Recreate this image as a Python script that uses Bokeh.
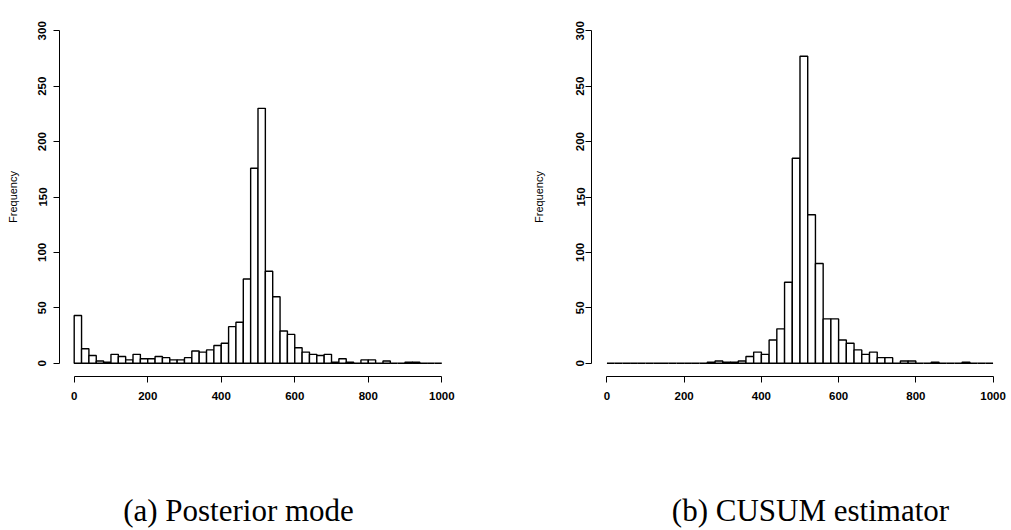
from bokeh.plotting import figure
from bokeh.layouts import row, column
from bokeh.models import Range1d, FixedTicker, ColumnDataSource
from bokeh.core.properties import value
from bokeh.embed import file_html
from bokeh.resources import INLINE

# ---- data ----
bin_left = [0, 20, 40, 60, 80, 100, 120, 140, 160, 180,
            200, 220, 240, 260, 280, 300, 320, 340, 360, 380,
            400, 420, 440, 460, 480, 500, 520, 540, 560, 580,
            600, 620, 640, 660, 680, 700, 720, 740, 760, 780,
            800, 820, 840, 860, 880, 900, 920, 940, 960, 980]
bin_width = 20

posterior_counts = [43, 13, 7, 2, 1, 8, 6, 3, 8, 4,
                    4, 6, 5, 3, 3, 5, 11, 10, 12, 16,
                    18, 33, 37, 76, 176, 230, 83, 60, 29, 26,
                    14, 10, 8, 7, 8, 1, 4, 1, 0, 3,
                    3, 0, 2, 0, 0, 1, 1, 0, 0, 0]

cusum_counts = [0, 0, 0, 0, 0, 0, 0, 0, 0, 0,
                0, 0, 0, 1, 2, 1, 1, 2, 6, 10,
                8, 21, 31, 73, 185, 277, 134, 90, 40, 40,
                21, 18, 12, 8, 10, 5, 5, 0, 2, 2,
                0, 0, 1, 0, 0, 0, 1, 0, 0, 0]

x_ticks = [0, 200, 400, 600, 800, 1000]
y_ticks = [0, 50, 100, 150, 200, 250, 300]
y_label = "Frequency"
captions = ["(a) Posterior mode", "(b) CUSUM estimator"]

SANS = "Liberation Sans"
SERIF = "Liberation Serif"


def hist_panel(counts, width, height, borders, ylab_standoff, axlab_standoff):
    left, right, top, bottom = borders
    p = figure(width=width, height=height, output_backend="svg",
               toolbar_location=None,
               x_range=Range1d(-40, 1040), y_range=Range1d(-12, 312),
               min_border_left=left, min_border_right=right,
               min_border_top=top, min_border_bottom=bottom)
    p.outline_line_color = None
    p.grid.visible = False
    p.background_fill_color = "white"
    p.border_fill_color = "white"

    src = ColumnDataSource(dict(
        left=bin_left,
        right=[b + bin_width for b in bin_left],
        top=counts,
        bottom=[0] * len(counts),
    ))
    p.quad(left="left", right="right", top="top", bottom="bottom", source=src,
           fill_color="white", line_color="black", line_width=1.4)

    xa = p.xaxis[0]
    xa.bounds = (0, 1000)
    xa.ticker = FixedTicker(ticks=x_ticks)
    ya = p.yaxis[0]
    ya.bounds = (0, 300)
    ya.ticker = FixedTicker(ticks=y_ticks)
    ya.major_label_orientation = "vertical"
    ya.axis_label = y_label
    ya.axis_label_text_font = SANS
    ya.axis_label_text_font_size = "11px"
    ya.axis_label_text_font_style = "normal"
    ya.axis_label_standoff = axlab_standoff
    ya.major_label_standoff = ylab_standoff
    xa.major_label_standoff = 9
    for ax in (xa, ya):
        ax.minor_tick_line_color = None
        ax.major_tick_in = 0
        ax.major_tick_out = 6
        ax.axis_line_color = "black"
        ax.major_tick_line_color = "black"
        ax.major_label_text_font = SANS
        ax.major_label_text_font_size = "11.5px"
        ax.major_label_text_font_style = "bold"
        ax.major_label_text_color = "black"
        ax.axis_label_text_color = "black"
    return p


p1 = hist_panel(posterior_counts, 495, 440, (59, 39, 17, 64), 7, 17)
p2 = hist_panel(cusum_counts, 516, 440, (96, 3, 3, 58), 1, 29)

cap = figure(width=1011, height=90, output_backend="svg", toolbar_location=None,
             x_range=Range1d(0, 1011), y_range=Range1d(0, 90),
             min_border_left=0, min_border_right=0, min_border_top=0, min_border_bottom=0)
cap.axis.visible = False
cap.grid.visible = False
cap.outline_line_color = None
cap.text(x=[238, 810], y=[20, 20], text=captions,
         text_font=value(SERIF), text_font_size="31px",
         text_align="center", text_baseline="middle", text_color="black")

layout = column(row(p1, p2), cap)

with open("out.html", "w") as f:
    f.write(file_html(layout, INLINE))
